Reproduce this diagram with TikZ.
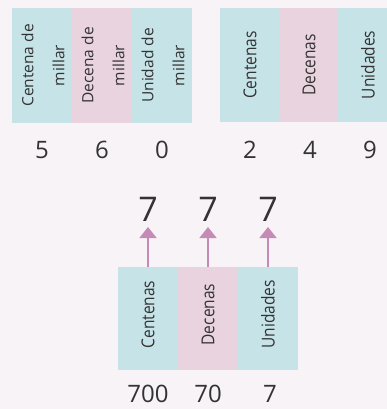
\documentclass[tikz,border=0pt]{standalone}
\usepackage{fontspec}
\setmainfont{Open Sans}
\usetikzlibrary{arrows.meta}
\definecolor{bgc}{HTML}{F8F3F7}
\definecolor{cblue}{HTML}{C6E3E8}
\definecolor{cpink}{HTML}{E8D3DF}
\definecolor{ctext}{HTML}{333333}
\definecolor{carrow}{HTML}{C68AB6}
\begin{document}
\begin{tikzpicture}[x=1pt,y=-1pt,
  colbox/.style={minimum width=60pt,inner sep=0pt,outer sep=0pt,anchor=north west},
  bluebox/.style={colbox,fill=cblue},
  pinkbox/.style={colbox,fill=cpink},
  lbl/.style={rotate=90,text=ctext,font=\fontsize{15.5}{31}\selectfont,align=center,inner sep=0pt},
  lbllong/.style={lbl,yscale=1.15},
  digit/.style={text=ctext,font=\fontsize{24}{26}\selectfont,inner sep=0pt},
  bigdigit/.style={text=ctext,font=\fontsize{34}{36}\selectfont,inner sep=0pt},
  uparrow/.style={draw=carrow,line width=1.6pt,-{Triangle[width=17pt,length=11pt]}}]
\useasboundingbox[fill=bgc] (0,0) rectangle (387,409);
% top-left group
\node[bluebox,minimum height=115pt] (tl1) at (12,8) {};
\node[pinkbox,minimum height=115pt] (tl2) at (72,8) {};
\node[bluebox,minimum height=115pt] (tl3) at (132,8) {};
\node[lbl] (tl1t) at ([xshift=1pt]tl1.center) {Centena de\\millar};
\node[lbl] (tl2t) at ([xshift=1pt]tl2.center) {Decena de\\millar};
\node[lbl] (tl3t) at ([xshift=1pt]tl3.center) {Unidad de\\millar};
\node[digit] (d5) at (42,150) {5};
\node[digit] (d6) at (102,150) {6};
\node[digit] (d0) at (162,150) {0};
% top-right group
\node[bluebox,minimum height=114pt] (tr1) at (220,8) {};
\node[pinkbox,minimum height=114pt] (tr2) at (279,8) {};
\node[bluebox,minimum height=114pt,minimum width=50pt] (tr3) at (338,8) {};
\node[lbllong] (tr1t) at (tr1.center) {Centenas};
\node[lbllong] (tr2t) at (tr2.center) {Decenas};
\node[lbllong] (tr3t) at ([xshift=30pt]tr3.west) {Unidades};
\node[digit] (d2) at (250,150) {2};
\node[digit] (d4) at (310,150) {4};
\node[digit] (d9) at (370,150) {9};
% bottom group
\node[bluebox,minimum height=103pt] (b1) at (118,267) {};
\node[pinkbox,minimum height=103pt] (b2) at (178,267) {};
\node[bluebox,minimum height=103pt] (b3) at (238,267) {};
\node[lbllong] (b1t) at ([yshift=4pt]b1.center) {Centenas};
\node[lbllong] (b2t) at ([yshift=4pt]b2.center) {Decenas};
\node[lbllong] (b3t) at ([yshift=4pt]b3.center) {Unidades};
\node[bigdigit] (s1) at (148,209) {7};
\node[bigdigit] (s2) at (208,209) {7};
\node[bigdigit] (s3) at (268,209) {7};
\coordinate (a1) at (148,227);
\coordinate (a2) at (208,227);
\coordinate (a3) at (268,227);
\draw[uparrow] (b1.north) -- (a1);
\draw[uparrow] (b2.north) -- (a2);
\draw[uparrow] (b3.north) -- (a3);
\node[digit] (v700) at (148,394) {700};
\node[digit] (v70) at (208,394) {70};
\node[digit] (v7) at (270,394) {7};
\end{tikzpicture}
\end{document}
